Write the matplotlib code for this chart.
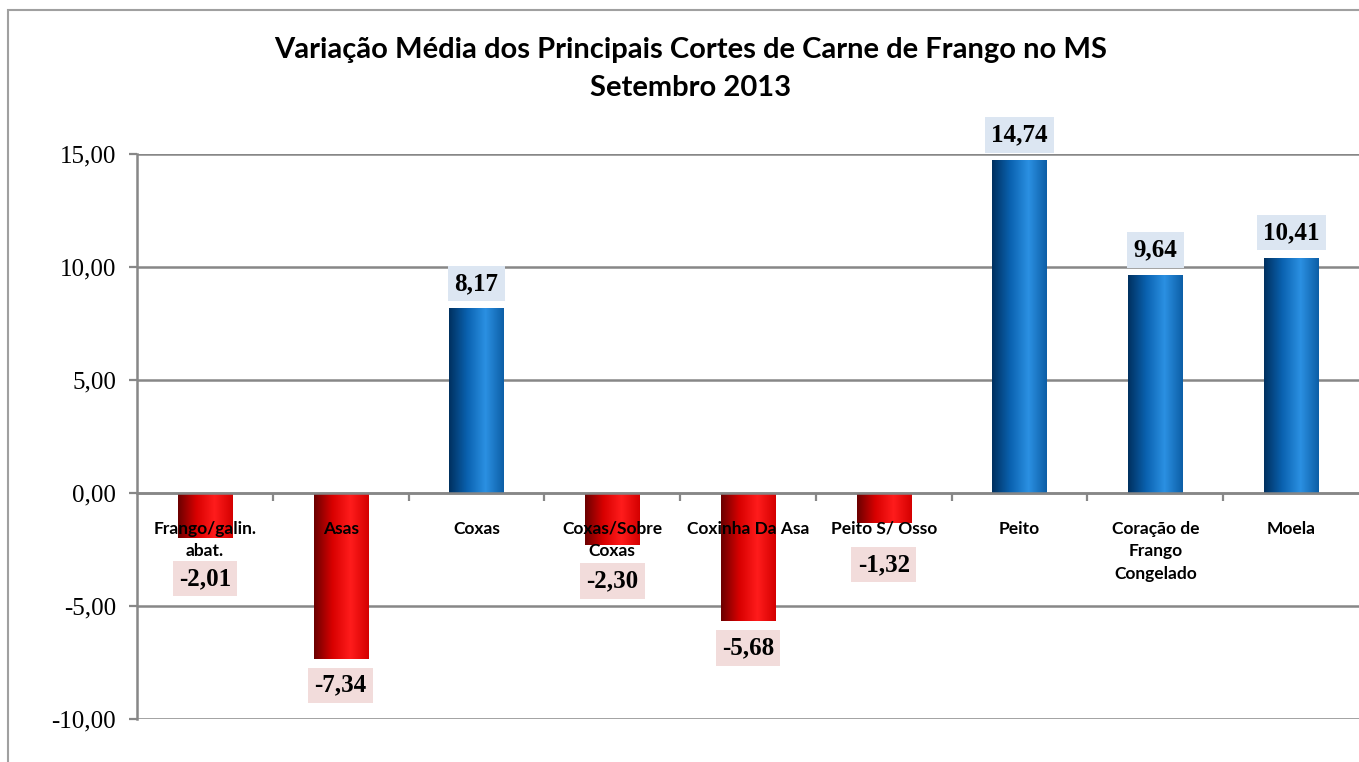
import numpy as np
import matplotlib.pyplot as plt
from matplotlib.patches import Rectangle
from matplotlib.colors import LinearSegmentedColormap
from matplotlib.ticker import FuncFormatter

# dados (variação média %, setembro 2013)
categorias = ['Frango/galin.\nabat.', 'Asas', 'Coxas', 'Coxas/Sobre\nCoxas',
              'Coxinha Da Asa', 'Peito S/ Osso', 'Peito',
              'Coração de\nFrango\nCongelado', 'Moela']
variacao = [-2.01, -7.34, 8.17, -2.30, -5.68, -1.32, 14.74, 9.64, 10.41]

# afastamento dos rótulos (pontos) - os pequenos negativos ficam abaixo das categorias
desloc = [29, 19, 18, 26, 19, 30, 18, 18, 18]

sans = ['Lato', 'DejaVu Sans']
serif = ['Liberation Serif', 'DejaVu Serif']

cm_azul = LinearSegmentedColormap.from_list('azul', ['#00305f', '#0a62b0', '#2b90e2', '#0c5ea6'])
cm_verm = LinearSegmentedColormap.from_list('verm', ['#6a0000', '#d80000', '#ff1c1c', '#d40000'])

fig = plt.figure(figsize=(13.59, 7.62), dpi=100)
ax = fig.add_axes([137/1359, 43/762, 1 - 137/1359, 565/762])

x = np.arange(len(variacao))
larg = 0.4
barras = ax.bar(x, variacao, width=larg, color=['#0a62b0' if v > 0 else '#d80000' for v in variacao], zorder=2)

# degradê tipo cilindro em cada barra
grad = np.linspace(0, 1, 256).reshape(1, -1)
for b, v in zip(barras, variacao):
    x0 = b.get_x()
    im = ax.imshow(grad, cmap=cm_azul if v > 0 else cm_verm, aspect='auto',
                   extent=[x0, x0 + b.get_width(), min(0, v), max(0, v)], zorder=2.1)
    im.set_clip_path(b)

ax.set_xlim(-0.5, len(variacao) - 0.5)
ax.set_ylim(-10, 15)
ax.set_yticks([-10, -5, 0, 5, 10, 15])
ax.yaxis.set_major_formatter(FuncFormatter(lambda v, p: f'{v:.2f}'.replace('.', ',')))

# rótulos de valor
for xi, v, d in zip(x, variacao, desloc):
    txt = f'{v:.2f}'.replace('.', ',')
    cor = '#dce6f2' if v > 0 else '#f2dcdb'
    ax.annotate(txt, (xi, v), xytext=(0, d if v > 0 else -d), textcoords='offset points',
                ha='center', va='center', fontsize=18, fontweight='bold', family=serif,
                bbox=dict(boxstyle='square,pad=0.25', fc=cor, ec='none'), zorder=6)

ax.spines['top'].set_visible(False)
ax.spines['right'].set_visible(False)
ax.spines['bottom'].set_position(('data', 0))
ax.spines['bottom'].set_color('#878787')
ax.spines['bottom'].set_linewidth(1.8)
ax.spines['left'].set_color('#878787')
ax.spines['left'].set_linewidth(1.8)

ax.set_xticks(x)
ax.set_xticklabels(categorias, fontsize=12.5, fontweight='bold', family=sans, linespacing=1.5)
ax.set_xticks(np.arange(0.5, len(variacao) - 0.5, 1), minor=True)
ax.tick_params(axis='x', which='major', length=0, pad=20)
ax.tick_params(axis='x', which='minor', length=6, width=1.6, color='#878787', direction='out')
ax.tick_params(axis='y', length=6, width=1.6, color='#878787', pad=9, labelsize=18)
for t in ax.get_yticklabels():
    t.set_family(serif)

ax.yaxis.grid(True, color='#878787', lw=1.8)
ax.yaxis.set_zorder(0.5)
ax.xaxis.set_zorder(5)

fig.text(0.508, 0.934, 'Variação Média dos Principais Cortes de Carne de Frango no MS',
         ha='center', va='center', fontsize=21, fontweight='bold', family=sans)
fig.text(0.508, 0.884, 'Setembro 2013', ha='center', va='center', fontsize=21,
         fontweight='bold', family=sans)

# moldura do gráfico
fig.add_artist(Rectangle((8/1359, -0.05), 1.2, 0.05 + 752/762, transform=fig.transFigure,
                         fill=False, ec='#a0a0a0', lw=1.5))

fig.savefig('out.png', dpi=100)
